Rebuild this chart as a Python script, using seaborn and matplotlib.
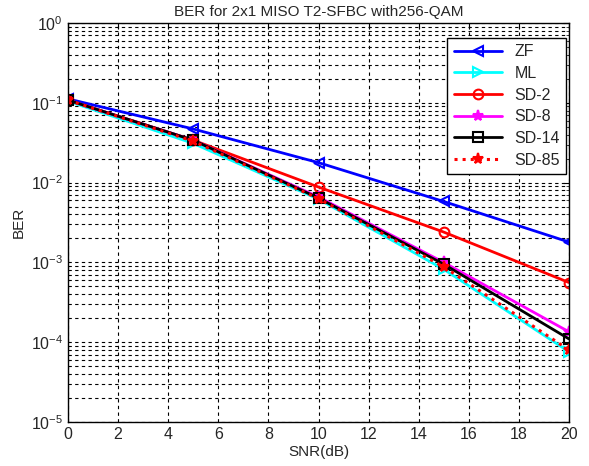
import matplotlib
matplotlib.use("Agg")
import matplotlib.pyplot as plt
import seaborn as sns
from matplotlib.ticker import LogLocator, NullFormatter

snr = [0, 5, 10, 15, 20]
labels = ["ZF", "ML", "SD-2", "SD-8", "SD-14", "SD-85"]
ber_zf = [0.112, 0.047, 0.0178, 0.0058, 0.0018]
ber_ml = [0.105, 0.031, 0.0062, 0.00082, 0.000076]
ber_sd2 = [0.108, 0.034, 0.0088, 0.0024, 0.00056]
ber_sd8 = [0.108, 0.034, 0.0066, 0.00100, 0.000135]
ber_sd14 = [0.108, 0.034, 0.0064, 0.00095, 0.00011]
ber_sd85 = [0.108, 0.033, 0.0063, 0.00088, 0.000080]

colors = ["#0000ff", "#00ffff", "#ff0000", "#ff00ff", "#000000", "#ff0000"]
markers = ["<", ">", "o", "*", "s", "*"]
filled = [False, False, False, True, False, True]
styles = ["-", "-", "-", "-", "-", ":"]
series = [ber_zf, ber_ml, ber_sd2, ber_sd8, ber_sd14, ber_sd85]

sns.set_style("white")
plt.rcParams["font.family"] = ["Liberation Sans", "DejaVu Sans"]

fig = plt.figure(figsize=(5.89, 4.66), dpi=100)
ax = fig.add_axes([0.1155, 0.0944, 0.8505, 0.8562])

for lab, vals, c, m, f, ls in zip(labels, series, colors, markers, filled, styles):
    sns.lineplot(x=snr, y=vals, ax=ax, color=c, marker=m, linestyle=ls,
                 linewidth=2 if ls == "-" else 2.2, markersize=8 if f else 7,
                 markerfacecolor=c if f else "none", markeredgecolor=c,
                 markeredgewidth=1.5, label=lab)

ax.set_yscale("log")
ax.set_xlim(0, 20)
ax.set_ylim(1e-5, 1)
ax.set_xticks(range(0, 21, 2))
ax.yaxis.set_major_locator(LogLocator(base=10, numticks=10))
ax.yaxis.set_minor_locator(LogLocator(base=10, subs=range(2, 10), numticks=20))
ax.yaxis.set_minor_formatter(NullFormatter())
ax.grid(True, which="major", color="black", linestyle=(0, (3, 3)), linewidth=0.8)
ax.grid(True, which="minor", axis="y", color="black", linestyle=(0, (3, 3)), linewidth=0.8)
for s in ax.spines.values():
    s.set_color("black")
    s.set_linewidth(1)
ax.tick_params(axis="both", labelsize=11.5, direction="in", length=4, color="black",
               right=True, top=True)
ax.tick_params(axis="y", which="minor", direction="in", length=2, right=True)

ax.set_xlabel("SNR(dB)", fontsize=11, labelpad=2)
ax.set_ylabel("BER", fontsize=11)
ax.set_title("BER for 2x1 MISO T2-SFBC with256-QAM", fontsize=11, pad=5)

leg = ax.legend(loc="upper right", bbox_to_anchor=(0.995, 0.963), borderaxespad=0,
                fontsize=11.5, frameon=True, fancybox=False,
                edgecolor="black", framealpha=1, handlelength=3.0,
                labelspacing=0.42, borderpad=0.4)
leg.get_frame().set_linewidth(1)

fig.savefig("out.png", dpi=100)
